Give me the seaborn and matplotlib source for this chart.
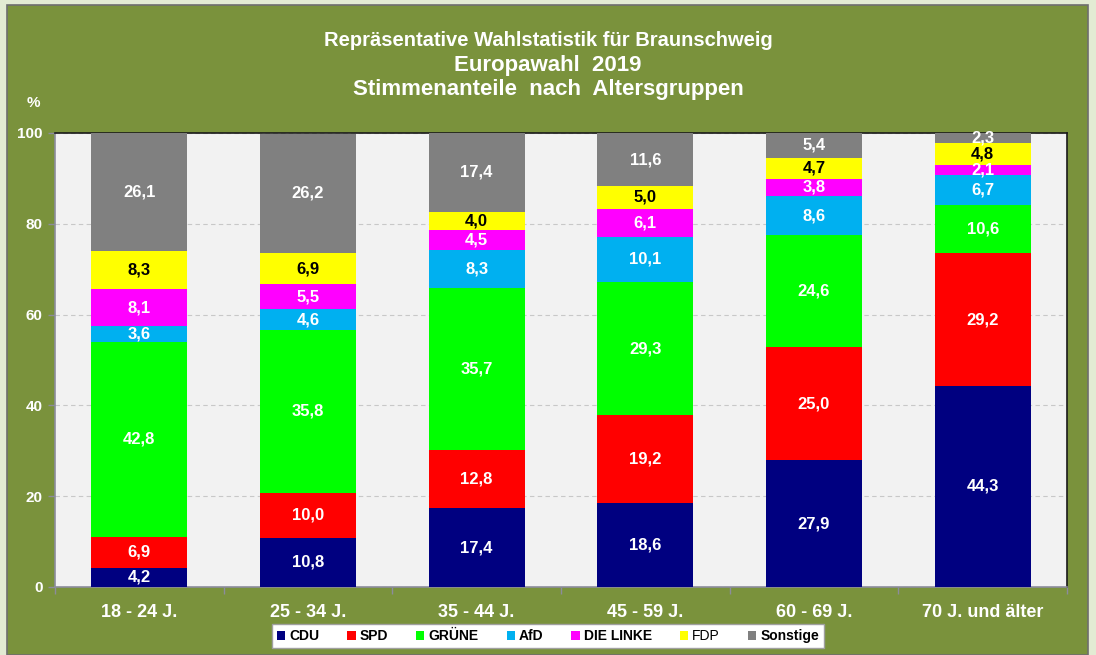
import matplotlib
matplotlib.use("Agg")
import matplotlib.pyplot as plt
from matplotlib.patches import Rectangle, Patch
import numpy as np
import pandas as pd
import seaborn as sns

# data
groups = ["18 - 24 J.", "25 - 34 J.", "35 - 44 J.", "45 - 59 J.", "60 - 69 J.", "70 J. und älter"]
parties = ["CDU", "SPD", "GRÜNE", "AfD", "DIE LINKE", "FDP", "Sonstige"]
cdu = [4.2, 10.8, 17.4, 18.6, 27.9, 44.3]
spd = [6.9, 10.0, 12.8, 19.2, 25.0, 29.2]
gruene = [42.8, 35.8, 35.7, 29.3, 24.6, 10.6]
afd = [3.6, 4.6, 8.3, 10.1, 8.6, 6.7]
linke = [8.1, 5.5, 4.5, 6.1, 3.8, 2.1]
fdp = [8.3, 6.9, 4.0, 5.0, 4.7, 4.8]
sonstige = [26.1, 26.2, 17.4, 11.6, 5.4, 2.3]

colors = ["#000080", "#FF0000", "#00FF00", "#00B0F0", "#FF00FF", "#FFFF00", "#808080"]
label_colors = ["white", "white", "white", "white", "white", "black", "white"]

values = pd.DataFrame(dict(zip(parties, [cdu, spd, gruene, afd, linke, fdp, sonstige])), index=groups)
tops = values.cumsum(axis=1)

sns.set_theme(style="white")
plt.rcParams["font.family"] = ["Liberation Sans", "DejaVu Sans"]

fig = plt.figure(figsize=(10.96, 6.55), dpi=100)
fig.patch.set_facecolor("#E3EBD3")
fig.patches.append(Rectangle((7 / 1096, 0), 1081 / 1096, 1 - 5 / 655, transform=fig.transFigure,
                             facecolor="#7A923C", edgecolor="#6E6E6E", linewidth=1.2, zorder=-10))

ax = fig.add_axes([55 / 1096, 1 - 587 / 655, 1012 / 1096, 454 / 655])
ax.set_facecolor("#F2F2F2")

# stacked bars: draw cumulative totals from the top segment down
for i in range(len(parties) - 1, -1, -1):
    p = parties[i]
    df = pd.DataFrame({"group": groups, "top": tops[p].values})
    sns.barplot(data=df, x="group", y="top", color=colors[i], width=0.57,
                saturation=1, ax=ax, zorder=3, linewidth=0)

for i, p in enumerate(parties):
    for j, g in enumerate(groups):
        v = values.loc[g, p]
        mid = tops.loc[g, p] - v / 2
        ax.text(j, mid, f"{v:.1f}".replace(".", ","), ha="center", va="center",
                color=label_colors[i], fontsize=12, fontweight="bold", zorder=5)

ax.set_ylim(0, 100)
ax.set_xlim(-0.5, len(groups) - 0.5)
ax.set_yticks(range(0, 101, 20))
ax.set_xticks(np.arange(-0.5, len(groups), 1.0), minor=True)
ax.yaxis.grid(True, linestyle=(0, (4, 3)), color="#C8C8C8", linewidth=0.8, zorder=0)
ax.set_axisbelow(True)
ax.set_xlabel("")
ax.set_ylabel("")
ax.tick_params(axis="y", which="major", left=True, color="#8C8C9C", labelcolor="white",
               labelsize=11, length=5, width=1, pad=4)
ax.tick_params(axis="x", which="major", labelcolor="white", labelsize=13, length=0, pad=12)
ax.tick_params(axis="x", which="minor", bottom=True, color="#8C8C9C", length=5, width=1)
for lab in ax.get_xticklabels() + ax.get_yticklabels():
    lab.set_fontweight("bold")
    lab.set_color("white")
for s in ["top", "right"]:
    ax.spines[s].set_color("#1A1A1A")
    ax.spines[s].set_linewidth(1.2)
for s in ["left", "bottom"]:
    ax.spines[s].set_color("#8C8C9C")
    ax.spines[s].set_linewidth(1.2)

fig.text(0.5, 1 - 41 / 655, "Repräsentative Wahlstatistik für Braunschweig", ha="center", va="center",
         color="white", fontsize=14.5, fontweight="bold")
fig.text(0.5, 1 - 65 / 655, "Europawahl  2019", ha="center", va="center",
         color="white", fontsize=16, fontweight="bold")
fig.text(0.5, 1 - 89 / 655, "Stimmenanteile  nach  Altersgruppen", ha="center", va="center",
         color="white", fontsize=16, fontweight="bold")
fig.text(33 / 1096, 1 - 103 / 655, "%", ha="center", va="center", color="white",
         fontsize=11, fontweight="bold")

handles = [Patch(facecolor=c, edgecolor="none") for c in colors]
leg = fig.legend(handles, parties, loc="center", bbox_to_anchor=(0.5, 1 - 636 / 655), ncol=7,
                 frameon=True, fancybox=False, fontsize=10, handlelength=0.6, handleheight=0.6,
                 handletextpad=0.3, columnspacing=2.0, borderpad=0.35, borderaxespad=0)
leg.get_frame().set_edgecolor("#A0A0A0")
leg.get_frame().set_facecolor("white")
leg.get_frame().set_alpha(1)
for t in leg.get_texts():
    t.set_color("black")
    if t.get_text() != "FDP":
        t.set_fontweight("bold")

fig.savefig("out.png", dpi=100, facecolor=fig.get_facecolor())
